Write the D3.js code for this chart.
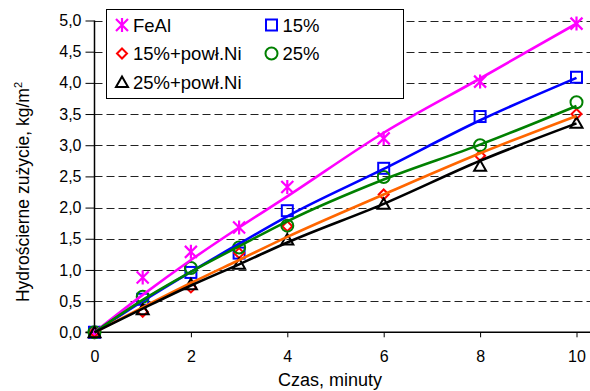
<!DOCTYPE html>
<html>
<head>
<meta charset="utf-8">
<script src="https://cdn.jsdelivr.net/npm/d3@7"></script>
<style>
  body { margin: 0; background: #fff; }
  svg { display: block; font-family: "Liberation Sans", Arial, sans-serif; }
</style>
</head>
<body>
<script>
// measured points (time in minutes)
const times = [0, 1, 2, 3, 4, 6, 8, 10]
const feal = [0, 0.88, 1.29, 1.68, 2.33, 3.11, 4.02, 4.95]
const p15 = [0, 0.53, 0.96, 1.27, 1.95, 2.63, 3.46, 4.09]
const p15ni = [0, 0.33, 0.72, 1.27, 1.70, 2.21, 2.83, 3.50]
const p25 = [0, 0.57, 1.03, 1.36, 1.71, 2.49, 3.0, 3.69]
const p25ni = [0, 0.37, 0.77, 1.10, 1.49, 2.06, 2.67, 3.36]

// trend lines at the same times
const trendFeal = [0, 0.60, 1.16, 1.68, 2.18, 3.20, 4.07, 4.95]
const trend15 = [0, 0.50, 0.97, 1.42, 1.86, 2.62, 3.40, 4.08]
const trend15ni = [0, 0.40, 0.79, 1.16, 1.53, 2.21, 2.87, 3.47]
const trend25 = [0, 0.52, 0.97, 1.38, 1.78, 2.45, 3.01, 3.63]
const trend25ni = [0, 0.38, 0.75, 1.09, 1.44, 2.06, 2.75, 3.35]

const xTicks = [0, 2, 4, 6, 8, 10]
const yTicks = [0, 0.5, 1, 1.5, 2, 2.5, 3, 3.5, 4, 4.5, 5]

const series = [
  { name: 'FeAl', pts: feal, trend: trendFeal, marker: 'star', mc: '#ff00ff', lc: '#ff00ff' },
  { name: '15%', pts: p15, trend: trend15, marker: 'square', mc: '#0000ff', lc: '#0000ff' },
  { name: '15%+powł.Ni', pts: p15ni, trend: trend15ni, marker: 'diamond', mc: '#ff0000', lc: '#ff6600' },
  { name: '25%', pts: p25, trend: trend25, marker: 'circle', mc: '#008000', lc: '#008000' },
  { name: '25%+powł.Ni', pts: p25ni, trend: trend25ni, marker: 'triangle', mc: '#000000', lc: '#000000' }
]

const W = 590, H = 391
const x = d3.scaleLinear([0, 10], [94.5, 576.5])
const y = d3.scaleLinear([0, 5], [332.3, 20.5])

const svg = d3.select('body').append('svg').attr('width', W).attr('height', H)

// dashed grid
svg.append('g')
  .selectAll('line')
  .data(yTicks.filter(d => d > 0))
  .join('line')
  .attr('x1', x(0)).attr('x2', W)
  .attr('y1', d => Math.round(y(d)) + 0.5).attr('y2', d => Math.round(y(d)) + 0.5)
  .attr('stroke', '#222').attr('stroke-width', 1).attr('stroke-dasharray', '8,4')

// axes
const yAxis = svg.append('g')
  .attr('transform', `translate(${x(0)},0)`)
  .call(d3.axisLeft(y).tickValues(yTicks).tickSize(9).tickPadding(4)
    .tickFormat(d => d.toFixed(1).replace('.', ',')))
yAxis.select('.domain').remove()
yAxis.selectAll('text').attr('font-size', 16).attr('font-family', null).attr('fill', '#000')

const xAxis = svg.append('g')
  .attr('transform', `translate(0,${y(0)})`)
  .call(d3.axisBottom(x).tickValues(xTicks).tickSize(5).tickPadding(13))
xAxis.select('.domain').remove()
xAxis.selectAll('text').attr('font-size', 16).attr('font-family', null).attr('fill', '#000')

svg.append('line')
  .attr('x1', x(0)).attr('x2', x(0)).attr('y1', y(5)).attr('y2', y(0))
  .attr('stroke', '#000').attr('stroke-width', 1.5)
svg.append('line')
  .attr('x1', x(0) - 9).attr('x2', W).attr('y1', y(0)).attr('y2', y(0))
  .attr('stroke', '#000').attr('stroke-width', 1.5)

// titles
svg.append('text')
  .attr('x', 330).attr('y', 386)
  .attr('text-anchor', 'middle').attr('font-size', 18)
  .text('Czas, minuty')

const yt = svg.append('text')
  .attr('transform', 'translate(29,192) rotate(-90)')
  .attr('text-anchor', 'middle').attr('font-size', 17.5)
yt.append('tspan').text('Hydrościerne zużycie,  kg/m')
yt.append('tspan').attr('font-size', 11).attr('dy', -7).text('2')

// marker shapes
function marker(sel, type, color) {
  sel.attr('fill', 'none').attr('stroke', color).attr('stroke-width', 2)
  if (type === 'star') {
    sel.append('path').attr('d', 'M-6,-6L6,6M-6,6L6,-6M0,-7L0,7').attr('stroke-width', 2.2)
  } else if (type === 'square') {
    sel.append('rect').attr('x', -5.5).attr('y', -5.5).attr('width', 11).attr('height', 11)
  } else if (type === 'diamond') {
    sel.append('path').attr('d', 'M0,-5L5,0L0,5L-5,0Z')
  } else if (type === 'circle') {
    sel.append('circle').attr('r', 6)
  } else if (type === 'triangle') {
    sel.append('path').attr('d', 'M0,-5.5L6,5L-6,5Z')
  }
}

const line = d3.line().x((d, i) => x(times[i])).y(d => y(d)).curve(d3.curveMonotoneX)

// markers first, then trend lines on top
series.forEach(s => {
  svg.append('g')
    .selectAll('g')
    .data(s.pts)
    .join('g')
    .attr('transform', (d, i) => `translate(${x(times[i])},${y(d)})`)
    .each(function () { marker(d3.select(this), s.marker, s.mc) })
})
series.forEach(s => {
  svg.append('path')
    .datum(s.trend)
    .attr('d', line)
    .attr('fill', 'none').attr('stroke', s.lc).attr('stroke-width', 2.6)
})

// legend
const lg = svg.append('g')
lg.append('rect')
  .attr('x', 106.5).attr('y', 9.5).attr('width', 297).attr('height', 89)
  .attr('fill', '#fff').attr('stroke', '#000').attr('stroke-width', 1)
const legendPos = [[122, 25], [271.5, 25], [122, 53.5], [271.5, 53.5], [122, 82]]
series.forEach((s, i) => {
  const [lx, ly] = legendPos[i]
  const g = lg.append('g').attr('transform', `translate(${lx},${ly})`)
  marker(g.append('g'), s.marker, s.mc)
  g.append('text').attr('x', 11).attr('y', 6.5).attr('font-size', 18.5).attr('fill', '#000').text(s.name)
})
</script>
</body>
</html>
